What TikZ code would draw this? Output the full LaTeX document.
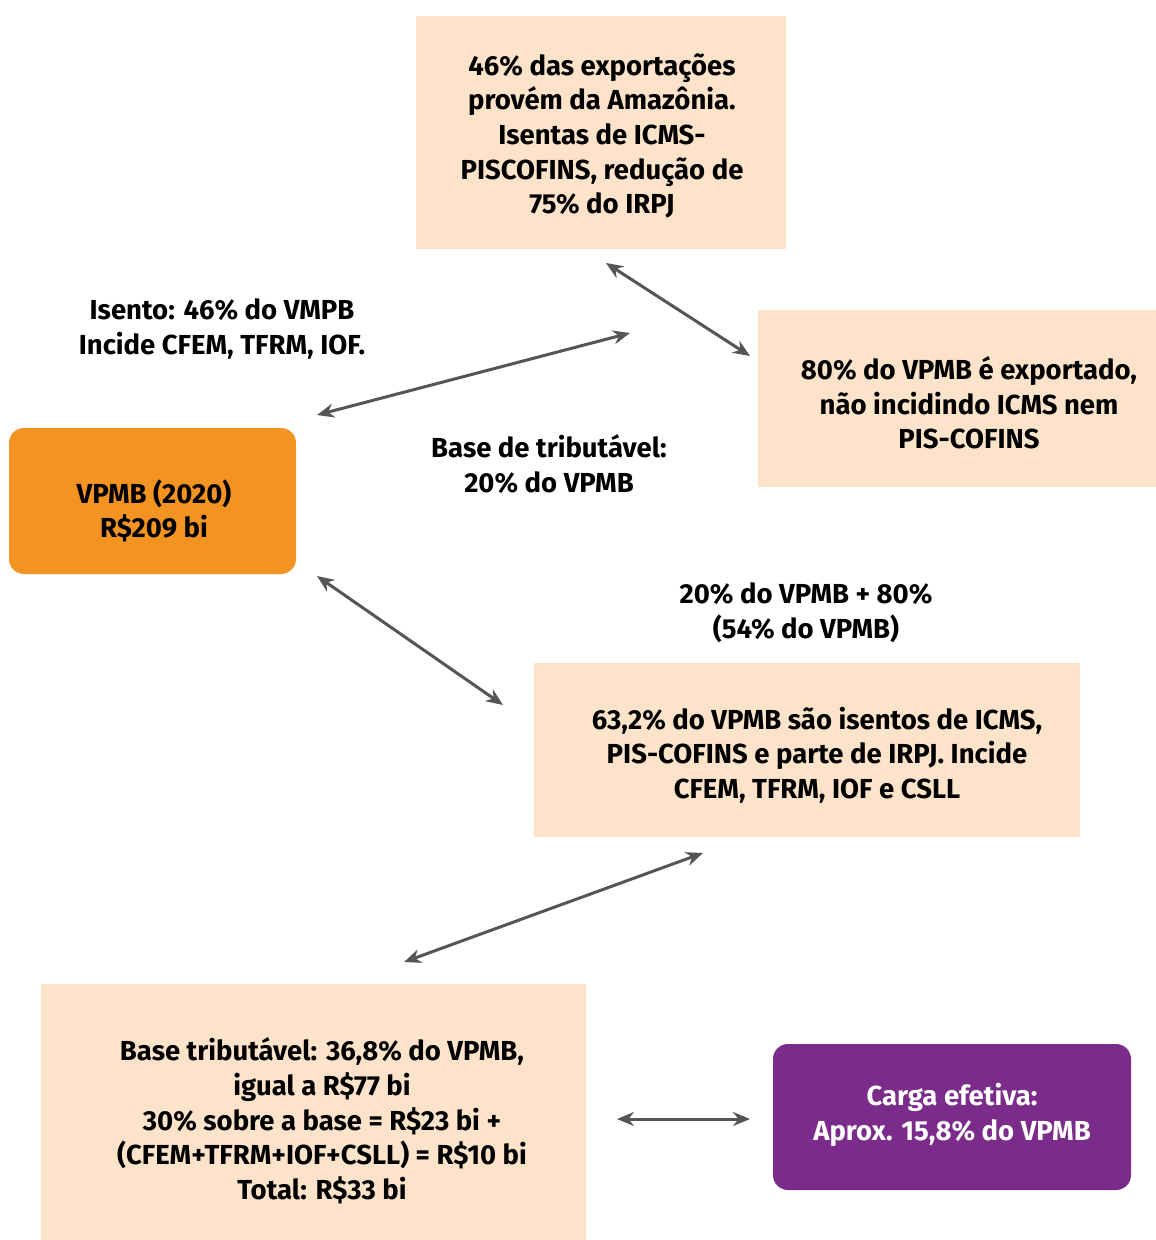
\documentclass[tikz,border=0pt]{standalone}
\usepackage{fontspec}
\setmainfont{Fira Sans}
\usepackage{xcolor}
\usetikzlibrary{arrows.meta}
\definecolor{peach}{HTML}{FDE3CA}
\definecolor{vpmborange}{HTML}{F39322}
\definecolor{cargapurple}{HTML}{7B2C8B}
\definecolor{linkgray}{HTML}{555555}
\tikzset{every node/.append style={font=\bfseries\fontsize{27.5}{34.7}\selectfont, align=center, inner sep=0pt, outer sep=0pt}}
\tikzset{
  infobox/.style={fill=peach},
  keybox/.style={fill=vpmborange, rounded corners=15pt},
  resultbox/.style={fill=cargapurple, text=white, rounded corners=15pt},
  link/.style={<->, draw=linkgray, line width=3pt}
}

\begin{document}
\begin{tikzpicture}[x=1pt, y=-1pt, >={Stealth[length=17pt,width=14pt]}]
    \useasboundingbox (0,0) rectangle (1156,1240);
    % boxes
    \fill[infobox] (416,16) rectangle (786,249);
    \node (export) at (602,136)
        {46\% das exportações\\provém da Amazônia.\\Isentas de ICMS-\\PISCOFINS, redução de\\75\% do IRPJ};
    \fill[infobox] (758,310) rectangle (1156,487);
    \node (exported) at (969,403)
        {80\% do VPMB é exportado,\\não incidindo ICMS nem\\PIS-COFINS};
    \fill[keybox] (9,428) rectangle (296,574);
    \node (vpmb) at (154,511)
        {VPMB (2020)\\R\$209 bi};
    \fill[infobox] (534,663) rectangle (1080,837);
    \node (isentos) at (817,755)
        {63,2\% do VPMB são isentos de ICMS,\\PIS-COFINS e parte de IRPJ. Incide\\CFEM, TFRM, IOF e CSLL};
    \fill[infobox] (41,984) rectangle (586,1240);
    \node (base) at (322,1121)
        {Base tributável: 36,8\% do VPMB,\\igual a R\$77 bi\\30\% sobre a base = R\$23 bi +\\(CFEM+TFRM+IOF+CSLL) = R\$10 bi\\Total: R\$33 bi};
    \fill[resultbox] (773,1044) rectangle (1131,1190);
    \node[text=white] (carga) at (952,1115)
        {Carga efetiva:\\Aprox. 15,8\% do VPMB};
    % labels
    \node (isento) at (222,329) {Isento: 46\% do VMPB\\Incide CFEM, TFRM, IOF.};
    \node (tributavel) at (549,464) {Base de tributável:\\20\% do VPMB};
    \node (soma) at (806,613) {20\% do VPMB + 80\%\\(54\% do VPMB)};
    % arrows
    \coordinate (a1s) at (606,263);  \coordinate (a1e) at (750,356);
    \coordinate (a2s) at (317,415);  \coordinate (a2e) at (630,333);
    \coordinate (a3s) at (317,576);  \coordinate (a3e) at (503,705);
    \coordinate (a4s) at (404,962);  \coordinate (a4e) at (703,853);
    \coordinate (a5s) at (617,1119); \coordinate (a5e) at (750,1119);
    \draw[link] (a1s) -- (a1e);
    \draw[link] (a2s) -- (a2e);
    \draw[link] (a3s) -- (a3e);
    \draw[link] (a4s) -- (a4e);
    \draw[link] (a5s) -- (a5e);
\end{tikzpicture}
\end{document}
